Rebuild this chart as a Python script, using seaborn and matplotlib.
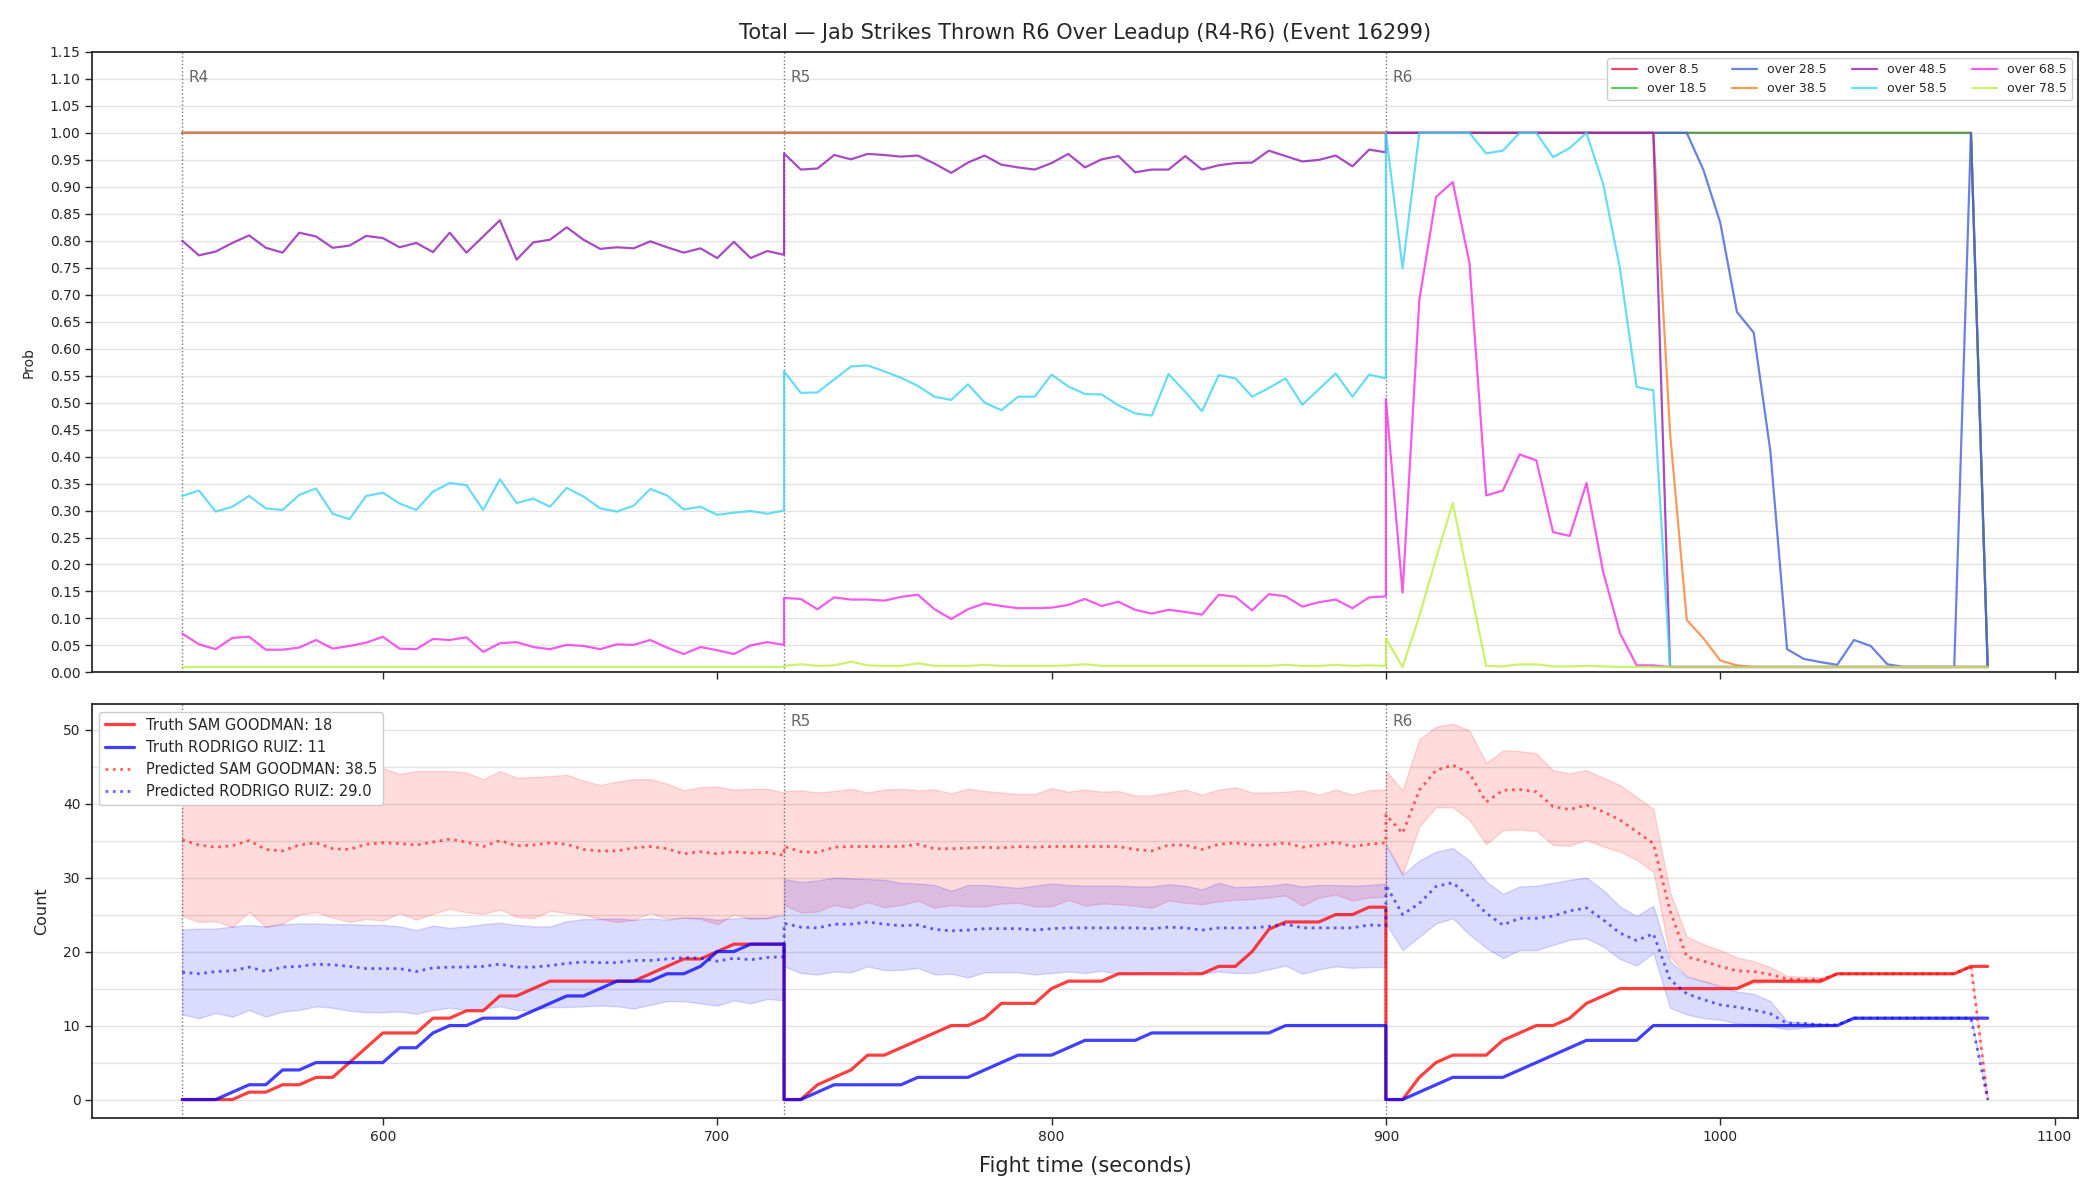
import numpy as np
import matplotlib
matplotlib.use('Agg')
import matplotlib.pyplot as plt
from matplotlib.ticker import MultipleLocator, FormatStrFormatter
import seaborn as sns

# rounds shown (each 180 s, sampled every 5 s; rounds share their boundary second)
round_names = ['R4', 'R5', 'R6']
round_starts = [540, 720, 900]
round_len = 180
step = 5
t = np.concatenate([np.arange(s, s + round_len + 1, step) for s in round_starts])

# ---- probability of total over each line ----
p_over_8_5 = [1.0] * 110 + [0.01]
p_over_18_5 = [1.0] * 110 + [0.01]
p_over_28_5 = ([1.0] * 37 + [1.0] * 37 + [1.0] * 19 +
               [0.931, 0.834, 0.668, 0.630, 0.410, 0.043, 0.025, 0.019, 0.014,
                0.060, 0.049, 0.015, 0.01, 0.01, 0.01, 0.01, 1.0, 0.01])
p_over_38_5 = ([1.0] * 37 + [1.0] * 37 + [1.0] * 17 +
               [0.444, 0.097, 0.063, 0.022, 0.013] + [0.01] * 15)
p_over_48_5 = ([0.800, 0.773, 0.780, 0.796, 0.810, 0.787, 0.778, 0.815, 0.808, 0.787,
                0.791, 0.809, 0.805, 0.788, 0.796, 0.779, 0.815, 0.778, 0.808, 0.838,
                0.765, 0.797, 0.802, 0.825, 0.802, 0.785, 0.788, 0.786, 0.799, 0.788,
                0.778, 0.786, 0.768, 0.798, 0.768, 0.781, 0.774] +
               [0.962, 0.932, 0.934, 0.959, 0.951, 0.961, 0.959, 0.956, 0.958, 0.943,
                0.926, 0.945, 0.958, 0.941, 0.936, 0.932, 0.944, 0.961, 0.936, 0.951,
                0.957, 0.927, 0.932, 0.932, 0.957, 0.932, 0.940, 0.944, 0.945, 0.967,
                0.957, 0.947, 0.950, 0.958, 0.938, 0.969, 0.964] +
               [1.0] * 17 + [0.01] * 20)
p_over_58_5 = ([0.327, 0.337, 0.298, 0.307, 0.327, 0.304, 0.301, 0.329, 0.341, 0.294,
                0.284, 0.327, 0.333, 0.313, 0.301, 0.335, 0.351, 0.347, 0.301, 0.358,
                0.314, 0.322, 0.307, 0.342, 0.326, 0.304, 0.298, 0.309, 0.340, 0.328,
                0.302, 0.307, 0.292, 0.296, 0.299, 0.294, 0.300] +
               [0.558, 0.518, 0.519, 0.543, 0.567, 0.569, 0.558, 0.546, 0.531, 0.511,
                0.505, 0.534, 0.500, 0.486, 0.511, 0.511, 0.552, 0.530, 0.516, 0.515,
                0.495, 0.480, 0.476, 0.553, 0.520, 0.484, 0.551, 0.545, 0.511, 0.527,
                0.545, 0.496, 0.525, 0.554, 0.511, 0.552, 0.545] +
               [1.0, 0.749, 1.0, 1.0, 1.0, 1.0, 0.962, 0.967, 1.0, 1.0,
                0.955, 0.972, 1.0, 0.905, 0.749, 0.529, 0.523] + [0.01] * 20)
p_over_68_5 = ([0.072, 0.052, 0.043, 0.064, 0.066, 0.042, 0.042, 0.046, 0.060, 0.044,
                0.049, 0.055, 0.066, 0.044, 0.043, 0.062, 0.060, 0.065, 0.038, 0.054,
                0.056, 0.047, 0.043, 0.051, 0.049, 0.043, 0.052, 0.051, 0.060, 0.046,
                0.034, 0.047, 0.041, 0.034, 0.050, 0.056, 0.051] +
               [0.138, 0.136, 0.117, 0.139, 0.135, 0.135, 0.133, 0.140, 0.144, 0.117,
                0.099, 0.117, 0.128, 0.123, 0.119, 0.119, 0.120, 0.125, 0.136, 0.123,
                0.131, 0.116, 0.109, 0.116, 0.112, 0.107, 0.144, 0.140, 0.115, 0.145,
                0.141, 0.122, 0.130, 0.135, 0.119, 0.139, 0.141] +
               [0.507, 0.148, 0.690, 0.881, 0.909, 0.759, 0.328, 0.337, 0.404, 0.393,
                0.260, 0.253, 0.351, 0.186, 0.073, 0.013, 0.013] + [0.01] * 20)
p_over_78_5 = ([0.01] * 37 +
               [0.012, 0.015, 0.012, 0.013, 0.020, 0.013, 0.012, 0.012, 0.017, 0.012,
                0.012, 0.012, 0.014, 0.012, 0.012, 0.012, 0.012, 0.013, 0.015, 0.012,
                0.012, 0.012, 0.012, 0.012, 0.012, 0.012, 0.012, 0.012, 0.012, 0.012,
                0.014, 0.012, 0.012, 0.014, 0.012, 0.013, 0.012] +
               [0.063, 0.01, 0.104, 0.211, 0.314, 0.163, 0.012, 0.011, 0.015, 0.015,
                0.011, 0.011, 0.012, 0.011] + [0.01] * 23)

prob_labels = ['over 8.5', 'over 18.5', 'over 28.5', 'over 38.5',
               'over 48.5', 'over 58.5', 'over 68.5', 'over 78.5']
prob_series = [p_over_8_5, p_over_18_5, p_over_28_5, p_over_38_5,
               p_over_48_5, p_over_58_5, p_over_68_5, p_over_78_5]
prob_colors = ['#e6194b', '#3cb44b', '#4363d8', '#f58231',
               '#911eb4', '#42d4f4', '#f032e6', '#bfef45']

# ---- counts ----
truth_sam = ([0, 0, 0, 0, 1, 1, 2, 2, 3, 3, 5, 7, 9, 9, 9, 11, 11, 12, 12, 14,
              14, 15, 16, 16, 16, 16, 16, 16, 17, 18, 19, 19, 20, 21, 21, 21, 21] +
             [0, 0, 2, 3, 4, 6, 6, 7, 8, 9, 10, 10, 11, 13, 13, 13, 15, 16, 16, 16,
              17, 17, 17, 17, 17, 17, 18, 18, 20, 23, 24, 24, 24, 25, 25, 26, 26] +
             [0, 0, 3, 5, 6, 6, 6, 8, 9, 10, 10, 11, 13, 14, 15, 15, 15, 15, 15, 15,
              15, 15, 16, 16, 16, 16, 16, 17, 17, 17, 17, 17, 17, 17, 17, 18, 18])
truth_rodrigo = ([0, 0, 0, 1, 2, 2, 4, 4, 5, 5, 5, 5, 5, 7, 7, 9, 10, 10, 11, 11,
                  11, 12, 13, 14, 14, 15, 16, 16, 16, 17, 17, 18, 20, 20, 21, 21, 21] +
                 [0, 0, 1, 2, 2, 2, 2, 2, 3, 3, 3, 3, 4, 5, 6, 6, 6, 7, 8, 8,
                  8, 8, 9, 9, 9, 9, 9, 9, 9, 9, 10, 10, 10, 10, 10, 10, 10] +
                 [0, 0, 1, 2, 3, 3, 3, 3, 4, 5, 6, 7, 8, 8, 8, 8, 10, 10, 10, 10,
                  10, 10, 10, 10, 10, 10, 10, 10, 11, 11, 11, 11, 11, 11, 11, 11, 11])

pred_sam = ([35.1, 34.4, 34.1, 34.3, 35.0, 33.8, 33.6, 34.4, 34.7, 33.9,
             33.8, 34.5, 34.7, 34.6, 34.4, 34.8, 35.2, 34.8, 34.2, 35.0,
             34.3, 34.4, 34.7, 34.5, 33.8, 33.6, 33.6, 34.0, 34.2, 33.9,
             33.2, 33.5, 33.2, 33.5, 33.3, 33.4, 33.0] +
            [34.2, 33.5, 33.4, 34.1, 34.2, 34.2, 34.2, 34.2, 34.5, 33.9,
             33.9, 34.0, 34.1, 34.0, 34.2, 34.1, 34.2, 34.2, 34.2, 34.2,
             34.2, 33.8, 33.6, 34.4, 34.4, 33.8, 34.5, 34.7, 34.4, 34.4,
             34.7, 34.1, 34.4, 34.8, 34.2, 34.5, 34.7] +
            [38.5, 36.0, 41.8, 44.5, 45.2, 44.1, 40.2, 41.8, 41.9, 41.6,
             39.6, 39.2, 39.8, 38.9, 37.8, 36.2, 34.6, 25.5, 19.3, 18.7,
             18.0, 17.4, 17.3, 16.9, 16.3, 16.2, 16.2, 17.0, 17.0, 17.0,
             17.0, 17.0, 17.0, 17.0, 17.0, 18.0, 0.0])
pred_sam_hi = ([44.8, 44.6, 44.5, 44.8, 44.4, 44.6, 44.7, 44.3, 44.5, 44.2,
                44.6, 44.9, 44.8, 44.0, 44.4, 44.4, 44.4, 44.2, 43.3, 44.4,
                43.5, 43.6, 43.7, 43.9, 43.1, 42.5, 43.0, 43.3, 43.3, 42.7,
                41.8, 42.2, 42.3, 41.9, 42.0, 42.0, 41.5] +
               [41.7, 41.8, 41.5, 41.7, 42.0, 41.5, 41.9, 42.0, 41.8, 41.9,
                41.4, 42.0, 41.7, 41.5, 41.3, 41.3, 42.1, 41.6, 41.9, 41.6,
                41.7, 41.1, 41.1, 41.5, 41.9, 41.2, 41.9, 42.2, 41.5, 41.5,
                41.6, 41.8, 41.2, 41.9, 41.2, 41.8, 41.9] +
               [44.5, 41.8, 48.7, 50.4, 50.8, 49.9, 45.5, 47.2, 47.1, 46.8,
                44.5, 44.1, 44.5, 43.5, 42.5, 40.9, 39.3, 28.0, 22.0, 21.0,
                20.2, 19.2, 18.7, 17.9, 16.7, 16.6, 16.5, 17.0, 17.0, 17.0,
                17.0, 17.0, 17.0, 17.0, 17.0, 18.0, 0.0])
pred_sam_lo = ([24.8, 24.0, 24.1, 23.3, 25.4, 23.3, 23.8, 25.0, 25.3, 24.6,
                24.0, 24.4, 24.2, 25.2, 24.3, 25.1, 25.8, 25.3, 25.1, 25.7,
                24.7, 24.5, 25.5, 25.2, 25.0, 24.4, 24.0, 24.3, 25.2, 24.4,
                24.6, 24.4, 23.7, 25.0, 24.4, 24.5, 25.1] +
               [26.3, 25.3, 25.4, 26.3, 25.9, 26.7, 26.0, 26.3, 26.9, 25.9,
                26.3, 26.1, 26.1, 26.5, 26.6, 26.1, 26.1, 27.0, 26.2, 26.5,
                26.4, 26.2, 25.9, 26.9, 26.6, 26.4, 26.8, 27.0, 27.1, 27.3,
                27.6, 26.2, 27.3, 27.7, 26.9, 27.3, 27.4] +
               [34.6, 30.4, 36.9, 39.5, 39.5, 37.8, 34.5, 36.4, 36.5, 36.3,
                34.4, 34.3, 35.1, 34.2, 33.5, 32.4, 30.8, 19.3, 16.7, 16.0,
                15.4, 15.2, 15.7, 15.9, 15.8, 15.8, 15.8, 17.0, 17.0, 17.0,
                17.0, 17.0, 17.0, 17.0, 17.0, 18.0, 0.0])

pred_rodrigo = ([17.2, 17.0, 17.3, 17.4, 17.9, 17.3, 17.9, 18.0, 18.3, 18.2,
                 18.0, 17.7, 17.7, 17.7, 17.3, 17.8, 17.9, 17.9, 18.0, 18.3,
                 17.9, 17.9, 18.1, 18.4, 18.6, 18.5, 18.5, 18.8, 18.8, 19.0,
                 19.2, 19.1, 18.7, 19.1, 18.9, 19.2, 19.3] +
                [23.8, 23.3, 23.2, 23.7, 23.7, 24.0, 23.7, 23.5, 23.6, 23.0,
                 22.8, 22.9, 23.1, 23.1, 23.1, 22.9, 23.1, 23.2, 23.2, 23.2,
                 23.2, 23.2, 23.1, 23.3, 23.2, 22.9, 23.2, 23.2, 23.2, 23.4,
                 23.7, 23.2, 23.2, 23.2, 23.2, 23.6, 23.5] +
                [29.0, 25.0, 26.5, 28.8, 29.3, 27.4, 25.2, 23.6, 24.5, 24.5,
                 24.8, 25.5, 25.9, 24.3, 22.5, 21.5, 22.4, 16.2, 14.3, 13.5,
                 12.8, 12.5, 12.1, 11.6, 10.3, 10.3, 10.1, 10.1, 11.0, 11.0,
                 11.0, 11.0, 11.0, 11.0, 11.0, 11.0, 0.0])
pred_rodrigo_hi = ([23.0, 23.1, 23.1, 23.4, 23.6, 23.4, 23.7, 23.8, 23.8, 23.7,
                    23.7, 23.6, 23.6, 23.4, 22.9, 23.5, 23.2, 23.4, 23.7, 23.9,
                    23.6, 23.4, 23.4, 24.1, 24.4, 24.4, 24.5, 24.3, 24.5, 24.3,
                    24.6, 24.6, 24.3, 24.5, 24.6, 24.6, 24.9] +
                   [29.8, 29.4, 29.6, 30.0, 29.9, 29.8, 29.7, 29.3, 29.2, 29.0,
                    28.2, 29.0, 29.0, 28.8, 28.6, 28.9, 29.2, 29.0, 28.9, 28.9,
                    28.9, 28.8, 28.8, 29.1, 28.9, 28.4, 29.3, 28.7, 28.8, 28.9,
                    29.2, 28.8, 29.0, 29.0, 28.9, 29.0, 29.2] +
                   [34.4, 30.4, 32.3, 33.5, 34.0, 32.3, 29.5, 27.8, 28.8, 28.9,
                    29.3, 29.7, 30.0, 28.3, 26.1, 24.8, 26.2, 18.7, 16.6, 16.0,
                    15.3, 14.6, 14.3, 13.3, 10.6, 10.4, 10.3, 10.1, 11.0, 11.0,
                    11.0, 11.0, 11.0, 11.0, 11.0, 11.0, 0.0])
pred_rodrigo_lo = ([11.5, 11.0, 11.7, 11.2, 12.1, 11.2, 11.9, 12.1, 12.6, 12.4,
                    12.0, 11.8, 11.8, 11.9, 11.6, 12.1, 12.4, 12.1, 12.3, 12.6,
                    12.1, 12.1, 12.5, 12.5, 12.6, 12.7, 12.6, 12.3, 12.8, 13.3,
                    13.3, 13.0, 12.7, 13.4, 13.0, 13.6, 13.4] +
                   [18.0, 17.1, 16.9, 17.3, 17.2, 18.0, 17.5, 17.5, 17.8, 16.9,
                    17.0, 16.5, 17.2, 17.2, 17.2, 16.9, 17.1, 17.3, 17.1, 17.4,
                    17.0, 17.1, 17.2, 17.1, 17.5, 17.0, 17.3, 17.1, 17.1, 17.6,
                    18.1, 17.0, 17.6, 18.0, 17.8, 17.9, 17.9] +
                   [23.8, 20.2, 22.0, 23.8, 24.5, 22.3, 20.5, 19.1, 20.2, 20.2,
                    20.9, 21.6, 21.8, 20.7, 19.0, 18.1, 19.8, 12.4, 11.5, 11.0,
                    10.8, 10.3, 10.1, 9.9, 9.5, 9.7, 9.9, 10.1, 11.0, 11.0,
                    11.0, 11.0, 11.0, 11.0, 11.0, 11.0, 0.0])

fighter_a, fighter_b = 'SAM GOODMAN', 'RODRIGO RUIZ'
final_a, final_b = 18, 11
line_a, line_b = 38.5, 29.0

# ---- style ----
sns.set_style('ticks')
plt.rcParams.update({
    'font.family': ['DejaVu Sans'],
    'axes.linewidth': 1.25,
    'axes.edgecolor': '#222222',
    'xtick.major.size': 4.8, 'ytick.major.size': 4.8,
    'xtick.major.width': 1.0, 'ytick.major.width': 1.0,
    'xtick.labelsize': 10, 'ytick.labelsize': 10,
    'axes.labelsize': 10,
})

fig, (ax1, ax2) = plt.subplots(2, 1, figsize=(21, 12), dpi=100, sharex=True,
                               gridspec_kw={'height_ratios': [3, 2]})
fig.subplots_adjust(left=0.0438, right=0.9895, top=0.9567, bottom=0.0683, hspace=0.062)

# top: probabilities
for lab, ys, col in zip(prob_labels, prob_series, prob_colors):
    sns.lineplot(x=t, y=ys, ax=ax1, color=col, lw=1.6, alpha=0.8,
                 estimator=None, sort=False, label=lab)
ax1.set_ylim(0, 1.15)
ax1.yaxis.set_major_locator(MultipleLocator(0.05))
ax1.yaxis.set_major_formatter(FormatStrFormatter('%.2f'))
ax1.grid(axis='y', color='#e3e3e3', lw=1)
ax1.set_axisbelow(True)
ax1.set_ylabel('Prob', labelpad=10)
ax1.set_xlabel('')
ax1.legend(loc='upper right', ncol=4, fontsize=9, framealpha=1, edgecolor='#cccccc')
ax1.set_title('Total — Jab Strikes Thrown R6 Over Leadup (R4-R6) (Event 16299)',
              fontsize=15, pad=9)

# bottom: counts
ax2.fill_between(t, pred_sam_lo, pred_sam_hi, color='red', alpha=0.14)
ax2.fill_between(t, pred_rodrigo_lo, pred_rodrigo_hi, color='blue', alpha=0.14)
sns.lineplot(x=t, y=truth_sam, ax=ax2, color='red', lw=2.3, alpha=0.75,
             estimator=None, sort=False, label=f'Truth {fighter_a}: {final_a}')
sns.lineplot(x=t, y=truth_rodrigo, ax=ax2, color='blue', lw=2.3, alpha=0.75,
             estimator=None, sort=False, label=f'Truth {fighter_b}: {final_b}')
sns.lineplot(x=t, y=pred_sam, ax=ax2, color='red', lw=2, alpha=0.6, linestyle=':',
             estimator=None, sort=False, label=f'Predicted {fighter_a}: {line_a}')
sns.lineplot(x=t, y=pred_rodrigo, ax=ax2, color='blue', lw=2, alpha=0.6, linestyle=':',
             estimator=None, sort=False, label=f'Predicted {fighter_b}: {line_b}')
ax2.set_ylim(-2.5, 53.4)
ax2.yaxis.set_major_locator(MultipleLocator(10))
ax2.yaxis.set_minor_locator(MultipleLocator(5))
ax2.tick_params(axis='y', which='minor', length=0)
ax2.grid(axis='y', which='both', color='#e3e3e3', lw=1)
ax2.set_axisbelow(True)
ax2.set_ylabel('Count', fontsize=11.5, labelpad=10)
ax2.set_xlabel('Fight time (seconds)', fontsize=15, labelpad=9)
ax2.legend(loc='upper left', fontsize=10.5, framealpha=1, edgecolor='#cccccc')

# round markers
for name, start in zip(round_names, round_starts):
    for ax in (ax1, ax2):
        ax.axvline(start, color='#555555', ls=':', lw=1, alpha=0.8, zorder=1)
    ax1.text(start + 2, 1.117, name, color='#666666', fontsize=11, va='top', ha='left')
    if name != 'R4':
        ax2.text(start + 2, 52.1, name, color='#666666', fontsize=11, va='top', ha='left')

fig.savefig('out.png', dpi=100)
